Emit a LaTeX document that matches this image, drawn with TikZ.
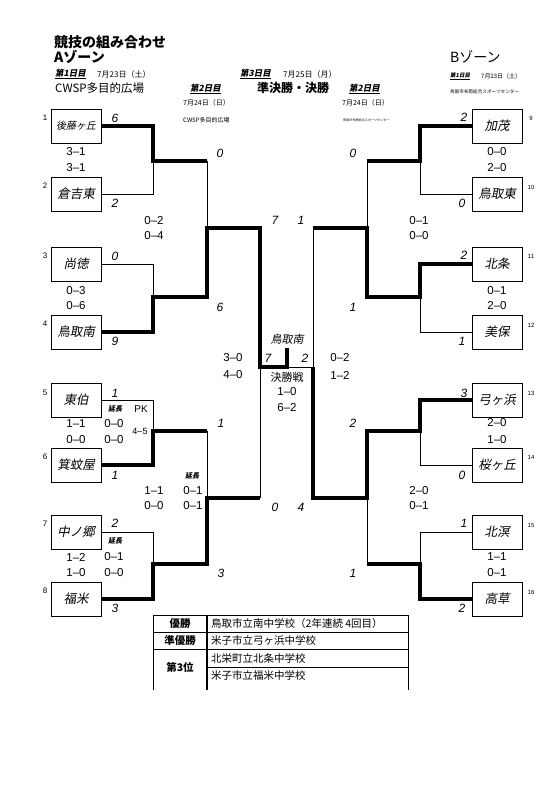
\documentclass[tikz,border=0pt]{standalone}
\usepackage{fontspec}
\setmainfont{Liberation Sans}
\newfontfamily\jp{Noto Sans CJK JP}
\newfontfamily\jpit[FakeSlant=0.2,BoldFeatures={FakeSlant=0.2}]{Noto Sans CJK JP}

\tikzset{
  team/.style={draw, line width=0.9pt, fill=white, minimum width=50pt, minimum height=34pt, inner sep=0pt, font=\jpit\fontsize{12.5}{13}\selectfont},
  win/.style={line width=4pt},
  lose/.style={line width=0.8pt},
  pt/.style={inner sep=0pt, font=\itshape\fontsize{12}{12}\selectfont},
  sc/.style={inner sep=0pt, font=\fontsize{11.5}{12}\selectfont},
  num/.style={inner sep=0pt, font=\fontsize{8}{8}\selectfont},
  day/.style={inner sep=0pt, anchor=west, font=\jpit\bfseries\fontsize{8.5}{9}\selectfont},
  tcell/.style={inner sep=0pt, font=\jp\fontsize{10.5}{11}\selectfont}
}

\begin{document}
\begin{tikzpicture}[x=1pt,y=-1pt]
\useasboundingbox[fill=white] (0,0) rectangle (555,806);

% header
\node[inner sep=0pt, anchor=west, font=\jp\bfseries\fontsize{14}{14}\selectfont] (title) at (54,42) {競技の組み合わせ};
\node[inner sep=0pt, anchor=west, font=\jp\bfseries\fontsize{14}{14}\selectfont] (zoneA) at (54,57) {Aゾーン};
\node[inner sep=0pt, anchor=west, font=\jp\fontsize{14}{14}\selectfont] (zoneB) at (450,57) {Bゾーン};
\node[day] (dayA1) at (55,74) {\underline{第1日目}};
\node[inner sep=0pt, anchor=west, font=\jp\fontsize{8}{8}\selectfont] (dateA1) at (97,74) {7月23日（土）};
\node[inner sep=0pt, anchor=west, font=\jp\fontsize{11.5}{12}\selectfont] (siteA1) at (55,88) {CWSP多目的広場};
\node[day] (dayA2) at (190,89) {\underline{第2日目}};
\node[inner sep=0pt, anchor=west, font=\jp\fontsize{7}{7}\selectfont] (dateA2) at (183,103) {7月24日（日）};
\node[inner sep=0pt, anchor=west, font=\jp\fontsize{6}{6}\selectfont] (siteA2) at (183,120) {CWSP多目的広場};
\node[day] (day3) at (240,74) {\underline{第3日目}};
\node[inner sep=0pt, anchor=west, font=\jp\fontsize{8}{8}\selectfont] (date3) at (283,74) {7月25日（月）};
\node[inner sep=0pt, anchor=west, font=\jp\bfseries\fontsize{12}{12}\selectfont] (site3) at (257,88) {準決勝・決勝};
\node[day, font=\jpit\bfseries\fontsize{5.5}{6}\selectfont] (dayB1) at (450,76) {\underline{第1日目}};
\node[inner sep=0pt, anchor=west, font=\jp\fontsize{6}{6}\selectfont] (dateB1) at (481,76) {7月23日（土）};
\node[inner sep=0pt, anchor=west, font=\jp\fontsize{4.6}{5}\selectfont] (siteB1) at (450,92) {鳥取市布勢総合スポーツセンター};
\node[day] (dayB2) at (349,89) {\underline{第2日目}};
\node[inner sep=0pt, anchor=west, font=\jp\fontsize{7}{7}\selectfont] (dateB2) at (342,103) {7月24日（日）};
\node[inner sep=0pt, anchor=west, font=\jp\fontsize{3.1}{3}\selectfont] (siteB2) at (343,120) {鳥取市布勢総合スポーツセンター};

% junctions
\coordinate (m12) at (153,161);
\coordinate (m34) at (153,297);
\coordinate (m56) at (153,431);
\coordinate (m78) at (153,564);
\coordinate (m910) at (420,161);
\coordinate (m1112) at (420,297);
\coordinate (m1314) at (420,431);
\coordinate (m1516) at (420,564);
\coordinate (q1) at (207,228);
\coordinate (q2) at (207,498);
\coordinate (q3) at (367,228);
\coordinate (q4) at (367,498);
\coordinate (s1) at (260,367);
\coordinate (s2) at (313,367);
\coordinate (f) at (287,348);

% teams
\node[team, font=\jpit\fontsize{10}{10}\selectfont] (t1) at (76,126) {後藤ヶ丘};
\foreach \y/\name [count=\i from 2] in {194/倉吉東, 264/尚徳, 332/鳥取南, 400/東伯, 465/箕蚊屋, 532/中ノ郷, 599/福米}
  \node[team] (t\i) at (76,\y) {\name};
\foreach \y/\name [count=\i from 9] in {126/加茂, 194/鳥取東, 264/北条, 332/美保, 400/弓ヶ浜, 465/桜ヶ丘, 532/北溟, 599/高草}
  \node[team] (t\i) at (497,\y) {\name};

% losers
\draw[lose] (t2.east) -| (m12);
\draw[lose] (t3.east) -| (m34);
\draw[lose] (m12 -| q1) -- (q1);
\draw[lose] (t5.east) -| (m56);
\draw[lose] (m56 -| q2) -- (q2);
\draw[lose] (t7.east) -| (m78);
\draw[lose] (q2 -| s1) -- (s1);
\draw[lose] (t10.west) -| (m910);
\draw[lose] (m910 -| q3) -- (q3);
\draw[lose] (t12.west) -| (m1112);
\draw[lose] (q3 -| s2) -- (s2) -- (f |- s2);
\draw[lose] (t14.west) -| (m1314);
\draw[lose] (t15.west) -| (m1516);
\draw[lose] (m1516 -| q4) -- (q4);

% winners
\draw[win] (t1.east) -| (m12) -- (m12 -| q1);
\draw[win] (t4.east) -| (m34) -- (m34 -| q1) -- (q1) -- (q1 -| s1) -- (s1) -- (f |- s1) -- (f);
\draw[win] (t6.east) -| (m56) -- (m56 -| q2);
\draw[win] (t8.east) -| (m78) -- (m78 -| q2) -- (q2) -- (q2 -| s1);
\draw[win] (t9.west) -| (m910) -- (m910 -| q3);
\draw[win] (t11.west) -| (m1112) -- (m1112 -| q3) -- (q3) -- (q3 -| s2);
\draw[win] (t13.west) -| (m1314) -- (m1314 -| q4) -- (q4) -- (q4 -| s2) -- (s2);
\draw[win] (t16.west) -| (m1516) -- (m1516 -| q4);

% seed numbers
\foreach \y [count=\i] in {118,186,256,324,393,457,524,591}
  \node[num] (n\i) at (45,\y) {\i};
\foreach \y [count=\i from 9] in {118,187,256,325,393,457,525,592}
  \node[num, font=\fontsize{6}{6}\selectfont] (n\i) at (531,\y) {\i};

% goals
\foreach \x/\y/\s [count=\i] in {115/118/6, 115/203/2, 115/256/0, 115/341/9, 115/393/1, 115/475/1, 115/523/2, 115/608/3,
  220/153/0, 220/307/6, 221/423/1, 221/573/3, 275/220/7, 301/220/1, 275/507/0, 301/507/4,
  353/153/0, 353/307/1, 353/423/2, 353/573/1, 268/358/7, 305/358/2,
  464/117/2, 462/203/0, 464/255/2, 462/341/1, 464/393/3, 462/475/0, 464/523/1, 462/608/2}
  \node[pt] (g\i) at (\x,\y) {\s};

% half scores
\foreach \x/\y/\s [count=\i] in {76/152/3–1, 76/168/3–1, 154/221/0–2, 154/236/0–4, 76/291/0–3, 76/306/0–6,
  76/424/1–1, 76/440/0–0, 114/424/0–0, 114/440/0–0, 154/491/1–1, 154/506/0–0, 193/491/0–1, 193/506/0–1,
  76/557/1–2, 76/573/1–0, 114/557/0–1, 114/573/0–0, 233/358/3–0, 233/375/4–0, 340/358/0–2, 340/375/1–2,
  287/392/1–0, 287/408/6–2, 497/152/0–0, 497/168/2–0, 419/221/0–1, 419/236/0–0, 497/291/0–1, 497/306/2–0,
  497/423/2–0, 497/440/1–0, 419/491/2–0, 419/506/0–1, 497/557/1–1, 497/573/0–1}
  \node[sc] (h\i) at (\x,\y) {\s};
\node[sc, font=\fontsize{9}{9}\selectfont] (pk) at (140,431) {4–5};
\node[sc, font=\fontsize{10}{10}\selectfont] (pklab) at (141,409) {PK};
\foreach \x/\y [count=\i] in {115/409, 192/476, 115/541}
  \node[inner sep=0pt, font=\jpit\bfseries\fontsize{7}{7}\selectfont] (ex\i) at (\x,\y) {延長};
\node[inner sep=0pt, font=\jpit\fontsize{11}{11}\selectfont] (champ) at (287,339) {鳥取南};
\node[inner sep=0pt, font=\jp\fontsize{11}{11}\selectfont] (final) at (287,377) {決勝戦};

% results table
\draw[lose] (153,615) -- (408,615);
\draw[lose] (153,632) -- (408,632);
\draw[lose] (153,649) -- (408,649);
\draw[lose] (207,667) -- (408,667);
\draw[lose] (153,615) -- (153,690);
\draw[lose] (408,615) -- (408,690);
\draw[line width=1.6pt] (207,615) -- (207,690);
\node[tcell, font=\jp\bfseries\fontsize{10.5}{11}\selectfont] (r1) at (180,623.5) {優勝};
\node[tcell, font=\jp\bfseries\fontsize{10.5}{11}\selectfont] (r2) at (180,640.5) {準優勝};
\node[tcell, font=\jp\bfseries\fontsize{10.5}{11}\selectfont] (r3) at (180,667) {第3位};
\node[tcell, anchor=west] (w1) at (211,623.5) {鳥取市立南中学校（2年連続\ 4回目）};
\node[tcell, anchor=west] (w2) at (211,640.5) {米子市立弓ヶ浜中学校};
\node[tcell, anchor=west] (w3) at (211,658) {北栄町立北条中学校};
\node[tcell, anchor=west] (w4) at (211,675.5) {米子市立福米中学校};
\end{tikzpicture}
\end{document}
